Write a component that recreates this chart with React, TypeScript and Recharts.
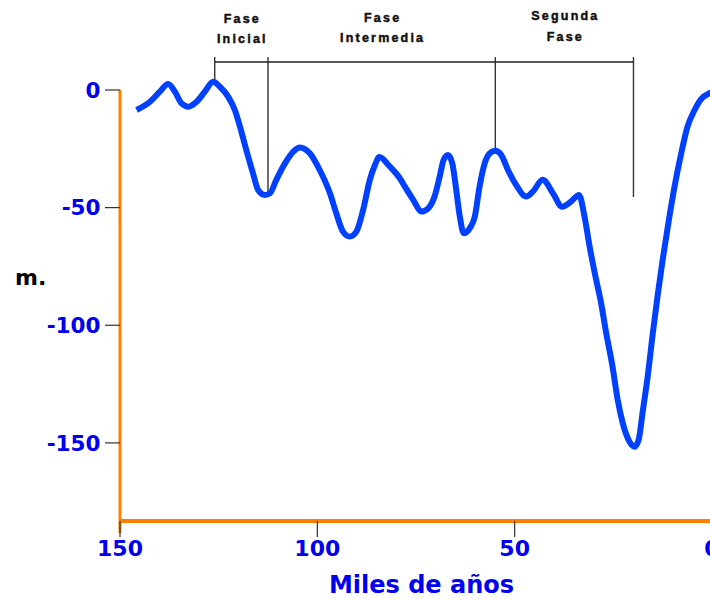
import React from 'react';
import { LineChart, Line, XAxis, YAxis, ReferenceLine } from 'recharts';

// thousands of years before present
const years = [
  145.8, 142.4, 139.9, 137.8, 136.1, 134.4, 132.7, 130.6, 128.5, 126.4, 124.7, 122.6, 120.9, 119.6, 118, 116.3,
  115, 113.3, 112, 110.4, 108.2, 106.1, 104.4, 101.9, 99.4, 96.8, 95.2, 93.5, 91.8, 90.1, 88.4, 86.7, 85.4, 84.3,
  81.6, 79.1, 77.8, 75.7, 73.6, 71.9, 70.3, 69, 68, 66.9, 65.8, 64.8, 63.9, 62.9, 61.4, 60.1, 58.9, 57.6, 56.3,
  54.9, 53.4, 51.7, 49.6, 47.1, 45.4, 42.9, 40.3, 38, 35.7, 33.7, 32.3, 31, 29.7, 28.1, 26.8, 25.2, 23.9, 22.6,
  20.9, 19.6, 18.6, 17.5, 16.3, 15, 13.7, 12.5, 11.2, 9.5, 7.8, 6.2, 4.4, 2.8, 0.7, 0,
];
// sea level in metres
const seaLevel = [
  -8.5, -5, -0.7, 2.5, -0.7, -5.7, -7.1, -5, -0.7, 3.5, 1.4, -2.8, -8.5, -15.6, -25.5, -35.4,
  -42.5, -44.6, -43.9, -38.2, -31.2, -26.2, -24.4, -26.9, -34, -43.9, -52.4, -60.2, -62.3, -60.2, -51, -38.2, -31.9, -28.5,
  -32.6, -37.5, -41.1, -46.7, -51.7, -50.3, -45.3, -36.8, -29.7, -27.6, -31.2, -42.5, -53.8, -60.9, -58.8, -53.8, -41.1, -31.2, -26.9,
  -25.8, -27.6, -34, -40.4, -45.3, -43.2, -38.2, -43.9, -49.6, -47.4, -44.6, -53.8, -66.6, -77.9, -90.6, -103.4, -117.6, -131.7, -141.7,
  -149.5, -151.6, -148.7, -136, -121.8, -103.4, -86.4, -72.2, -58.1, -41.1, -26.9, -15.6, -8.5, -4, -1.4, -1,
];

const xTicks = [150, 100, 50, 0];
const yTicks = [0, -50, -100, -150];

// phase boundaries (thousands of years) and where each marker line ends (m)
const phaseBounds = [126, 112.5, 54.9, 19.9];
const phaseLineEnds = [3.4, -44.6, -25.9, -45.5];
const phaseBracketLevel = 11.9;
const phaseTop = 14;
const phaseNames = [
  ['Fase', 'Inicial'],
  ['Fase', 'Intermedia'],
  ['Segunda', 'Fase'],
];

const data = years.map((t, i) => ({ t, v: seaLevel[i] }));

const ORANGE = '#ff8000';
const BLUE_LINE = '#0040ff';
const BLUE_TEXT = '#0000ee';
const TICK_FONT = { fill: BLUE_TEXT, fontWeight: 700, fontFamily: 'DejaVu Sans' };

const phaseOffsets = [
  [-38.5, -18.5],
  [-39.5, -19.5],
  [-42, -21.3],
];

const makePhaseLabel = (idx: number) => (props: any) => {
  const vb = props.viewBox || { x: 0, y: 0, width: 0, height: 0 };
  const cx = vb.x + vb.width / 2;
  const y = vb.y;
  const lines = phaseNames[idx];
  return (
    <g>
      {lines.map((s, j) => (
        <text
          key={j}
          x={cx + 1}
          y={y + phaseOffsets[idx][j]}
          textAnchor="middle"
          fontFamily="Liberation Sans, Arial, sans-serif"
          fontWeight={700}
          fontSize={12.5}
          letterSpacing={2.2}
          fill="#111"
          stroke="#111"
          strokeWidth={0.45}
        >
          {s}
        </text>
      ))}
    </g>
  );
};

const XTitle = () => (
  <text
    x={421.5}
    y={593}
    textAnchor="middle"
    fontFamily="DejaVu Sans"
    fontWeight={700}
    fontSize={24}
    fill={BLUE_TEXT}
  >
    Miles de años
  </text>
);

const YTitle = () => (
  <text x={15} y={285} fontFamily="DejaVu Sans" fontWeight={700} fontSize={22} fill="#000">
    m.
  </text>
);

export default function App() {
  return (
    <div
      style={{
        position: 'absolute',
        left: 0,
        top: 0,
        width: 710,
        height: 599,
        overflow: 'hidden',
        background: '#fff',
      }}
    >
      <LineChart width={730} height={599} data={data} margin={{ top: 54.7, right: 18, bottom: 0, left: 0 }}>
        <XAxis
          dataKey="t"
          type="number"
          domain={[0, 150]}
          reversed
          ticks={xTicks}
          interval={0}
          axisLine={{ stroke: ORANGE, strokeWidth: 4 }}
          tickLine={{ stroke: '#333', strokeWidth: 1.2 }}
          tickSize={16}
          tickMargin={3.4}
          tick={{ ...TICK_FONT, fontSize: 22 }}
          height={78}
          label={XTitle}
        />
        <YAxis
          type="number"
          domain={[-183.2, 15]}
          ticks={yTicks}
          interval={0}
          axisLine={false}
          tickLine={{ stroke: '#333', strokeWidth: 1.2 }}
          tickSize={15}
          tickMargin={4.5}
          tick={{ ...TICK_FONT, fontSize: 21.5 }}
          width={120}
          label={YTitle}
        />
        <ReferenceLine
          segment={[
            { x: 150, y: 0 },
            { x: 150, y: -188.3 },
          ]}
          stroke={ORANGE}
          strokeWidth={3}
          ifOverflow="visible"
        />
        {phaseBounds.map((b, i) => (
          <ReferenceLine
            key={'v' + i}
            segment={[
              { x: b, y: phaseTop },
              { x: b, y: phaseLineEnds[i] },
            ]}
            stroke="#333"
            strokeWidth={1.4}
            ifOverflow="visible"
          />
        ))}
        {phaseNames.map((_, i) => (
          <ReferenceLine
            key={'h' + i}
            segment={[
              { x: phaseBounds[i], y: phaseBracketLevel },
              { x: phaseBounds[i + 1], y: phaseBracketLevel },
            ]}
            stroke="#222"
            strokeWidth={1.4}
            ifOverflow="visible"
            label={makePhaseLabel(i)}
          />
        ))}
        <Line
          type="monotone"
          dataKey="v"
          stroke={BLUE_LINE}
          strokeWidth={6}
          dot={false}
          isAnimationActive={false}
        />
      </LineChart>
    </div>
  );
}
